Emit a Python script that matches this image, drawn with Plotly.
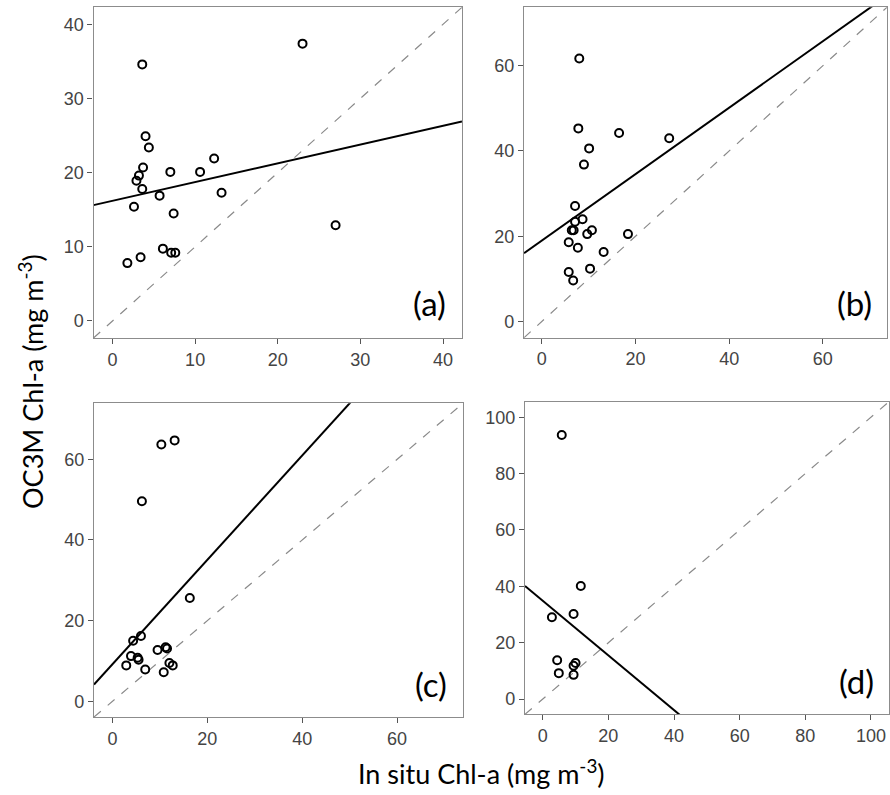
import plotly.graph_objects as go

# ---------------- data ----------------
a_insitu = [23.0, 3.6, 4.0, 4.4, 3.7, 3.2, 2.9, 3.6, 7.0, 10.6, 12.3, 13.2, 5.7, 2.6, 7.4, 27.0, 6.1, 7.1, 7.6, 3.4, 1.8]
a_oc3m   = [37.4, 34.6, 24.9, 23.4, 20.7, 19.6, 18.9, 17.8, 20.1, 20.1, 21.9, 17.3, 16.9, 15.4, 14.5, 12.9, 9.75, 9.2, 9.2, 8.6, 7.8]

b_insitu = [8.0, 7.8, 16.5, 27.2, 10.1, 9.0, 7.1, 8.7, 7.1, 6.4, 6.8, 10.7, 9.7, 18.4, 5.75, 7.7, 13.2, 10.3, 5.75, 6.7]
b_oc3m   = [61.7, 45.3, 44.2, 43.0, 40.6, 36.8, 27.1, 24.0, 23.4, 21.4, 21.4, 21.4, 20.5, 20.5, 18.6, 17.3, 16.3, 12.4, 11.6, 9.6]

c_insitu = [13.1, 10.3, 6.2, 16.3, 6.0, 4.35, 3.9, 5.3, 5.5, 9.5, 11.2, 11.5, 2.9, 6.9, 10.8, 12.0, 12.7]
c_oc3m   = [64.7, 63.7, 49.6, 25.6, 16.2, 15.0, 11.2, 10.8, 10.3, 12.7, 13.4, 13.1, 8.9, 7.9, 7.2, 9.5, 8.9]

d_insitu = [5.8, 11.6, 9.4, 2.8, 4.4, 4.9, 10.0, 9.4, 9.4]
d_oc3m   = [93.7, 40.1, 30.2, 29.0, 13.8, 9.2, 12.8, 11.8, 8.6]

panel_labels = ["(a)", "(b)", "(c)", "(d)"]
fit_slopes = [0.253, 0.779, 1.294, -0.970]
fit_intercepts = [16.2, 19.0, 9.2, 34.9]
axis_ranges = [[-2.3, 42.3], [-3.8, 73.7], [-3.9, 73.9], [-5.4, 105.5]]
x_ticks = [[0, 10, 20, 30, 40], [0, 20, 40, 60], [0, 20, 40, 60], [0, 20, 40, 60, 80, 100]]
y_ticks = [[0, 10, 20, 30, 40], [0, 20, 40, 60], [0, 20, 40, 60], [0, 20, 40, 60, 80, 100]]

x_title = "In situ Chl-a (mg m<sup>-3</sup>)"
y_title = "OC3M Chl-a (mg m<sup>-3</sup>)"

# ---------------- figure ----------------
W, H = 890, 795
xdoms = [[93.5 / W, 462 / W], [524 / W, 887 / W], [94 / W, 463 / W], [525 / W, 889 / W]]
ydoms = [[1 - 338 / H, 1 - 7.3 / H], [1 - 337.7 / H, 1 - 7.3 / H],
         [1 - 717 / H, 1 - 403.3 / H], [1 - 714.3 / H, 1 - 401.7 / H]]

xs = [a_insitu, b_insitu, c_insitu, d_insitu]
ys = [a_oc3m, b_oc3m, c_oc3m, d_oc3m]

fig = go.Figure()
layout = dict(
    width=W, height=H, margin=dict(l=0, r=0, t=0, b=0, autoexpand=False),
    paper_bgcolor="white", plot_bgcolor="white", showlegend=False,
    font=dict(family="Liberation Sans, Arial, sans-serif", color="#333333"),
)
annotations = []
tick_font = dict(family="Liberation Sans, Arial, sans-serif", size=18, color="#444444")
title_font = dict(family="Lato, Open Sans, sans-serif", size=27, color="black")

for i in range(4):
    sfx = "" if i == 0 else str(i + 1)
    xa, ya = "x" + sfx, "y" + sfx
    lo, hi = axis_ranges[i]
    # 1:1 dashed line
    fig.add_trace(go.Scatter(x=[lo, hi], y=[lo, hi], mode="lines", xaxis=xa, yaxis=ya,
                             line=dict(color="#8a8a8a", width=1.2, dash="dash"), hoverinfo="skip"))
    # regression line
    m, c = fit_slopes[i], fit_intercepts[i]
    fig.add_trace(go.Scatter(x=[lo, hi], y=[m * lo + c, m * hi + c], mode="lines", xaxis=xa, yaxis=ya,
                             line=dict(color="black", width=2), hoverinfo="skip"))
    # points
    fig.add_trace(go.Scatter(x=xs[i], y=ys[i], mode="markers", xaxis=xa, yaxis=ya,
                             marker=dict(symbol="circle-open", size=8, color="black",
                                         line=dict(width=2, color="black"))))
    axcommon = dict(range=[lo, hi], showgrid=False, zeroline=False, showline=True, mirror=True,
                    linecolor="#8c8c8c", linewidth=1.2, ticks="outside", ticklen=5, tickwidth=1.2,
                    tickcolor="#555555", tickfont=tick_font, automargin=False)
    layout["xaxis" + sfx] = dict(axcommon, domain=xdoms[i], anchor=ya, tickmode="array", tickvals=x_ticks[i])
    layout["yaxis" + sfx] = dict(axcommon, domain=ydoms[i], anchor=xa, tickmode="array", tickvals=y_ticks[i])
    annotations.append(dict(text=panel_labels[i], xref=xa + " domain", yref=ya + " domain",
                            x=0.963, y=0.105, xanchor="right", yanchor="middle", showarrow=False,
                            font=dict(family="Lato, Open Sans, sans-serif", size=33, color="black")))

annotations.append(dict(text=x_title, xref="paper", yref="paper", x=481 / W, y=1 - 772 / H,
                        xanchor="center", yanchor="middle", showarrow=False, font=title_font))
annotations.append(dict(text=y_title, xref="paper", yref="paper", x=31 / W, y=1 - 382 / H,
                        xanchor="center", yanchor="middle", showarrow=False, textangle=-90,
                        font=title_font))
layout["annotations"] = annotations
fig.update_layout(**layout)
fig.write_html("out.html", config={"displayModeBar": False},
               post_script="document.body.style.margin='0';document.body.style.overflow='hidden';")
